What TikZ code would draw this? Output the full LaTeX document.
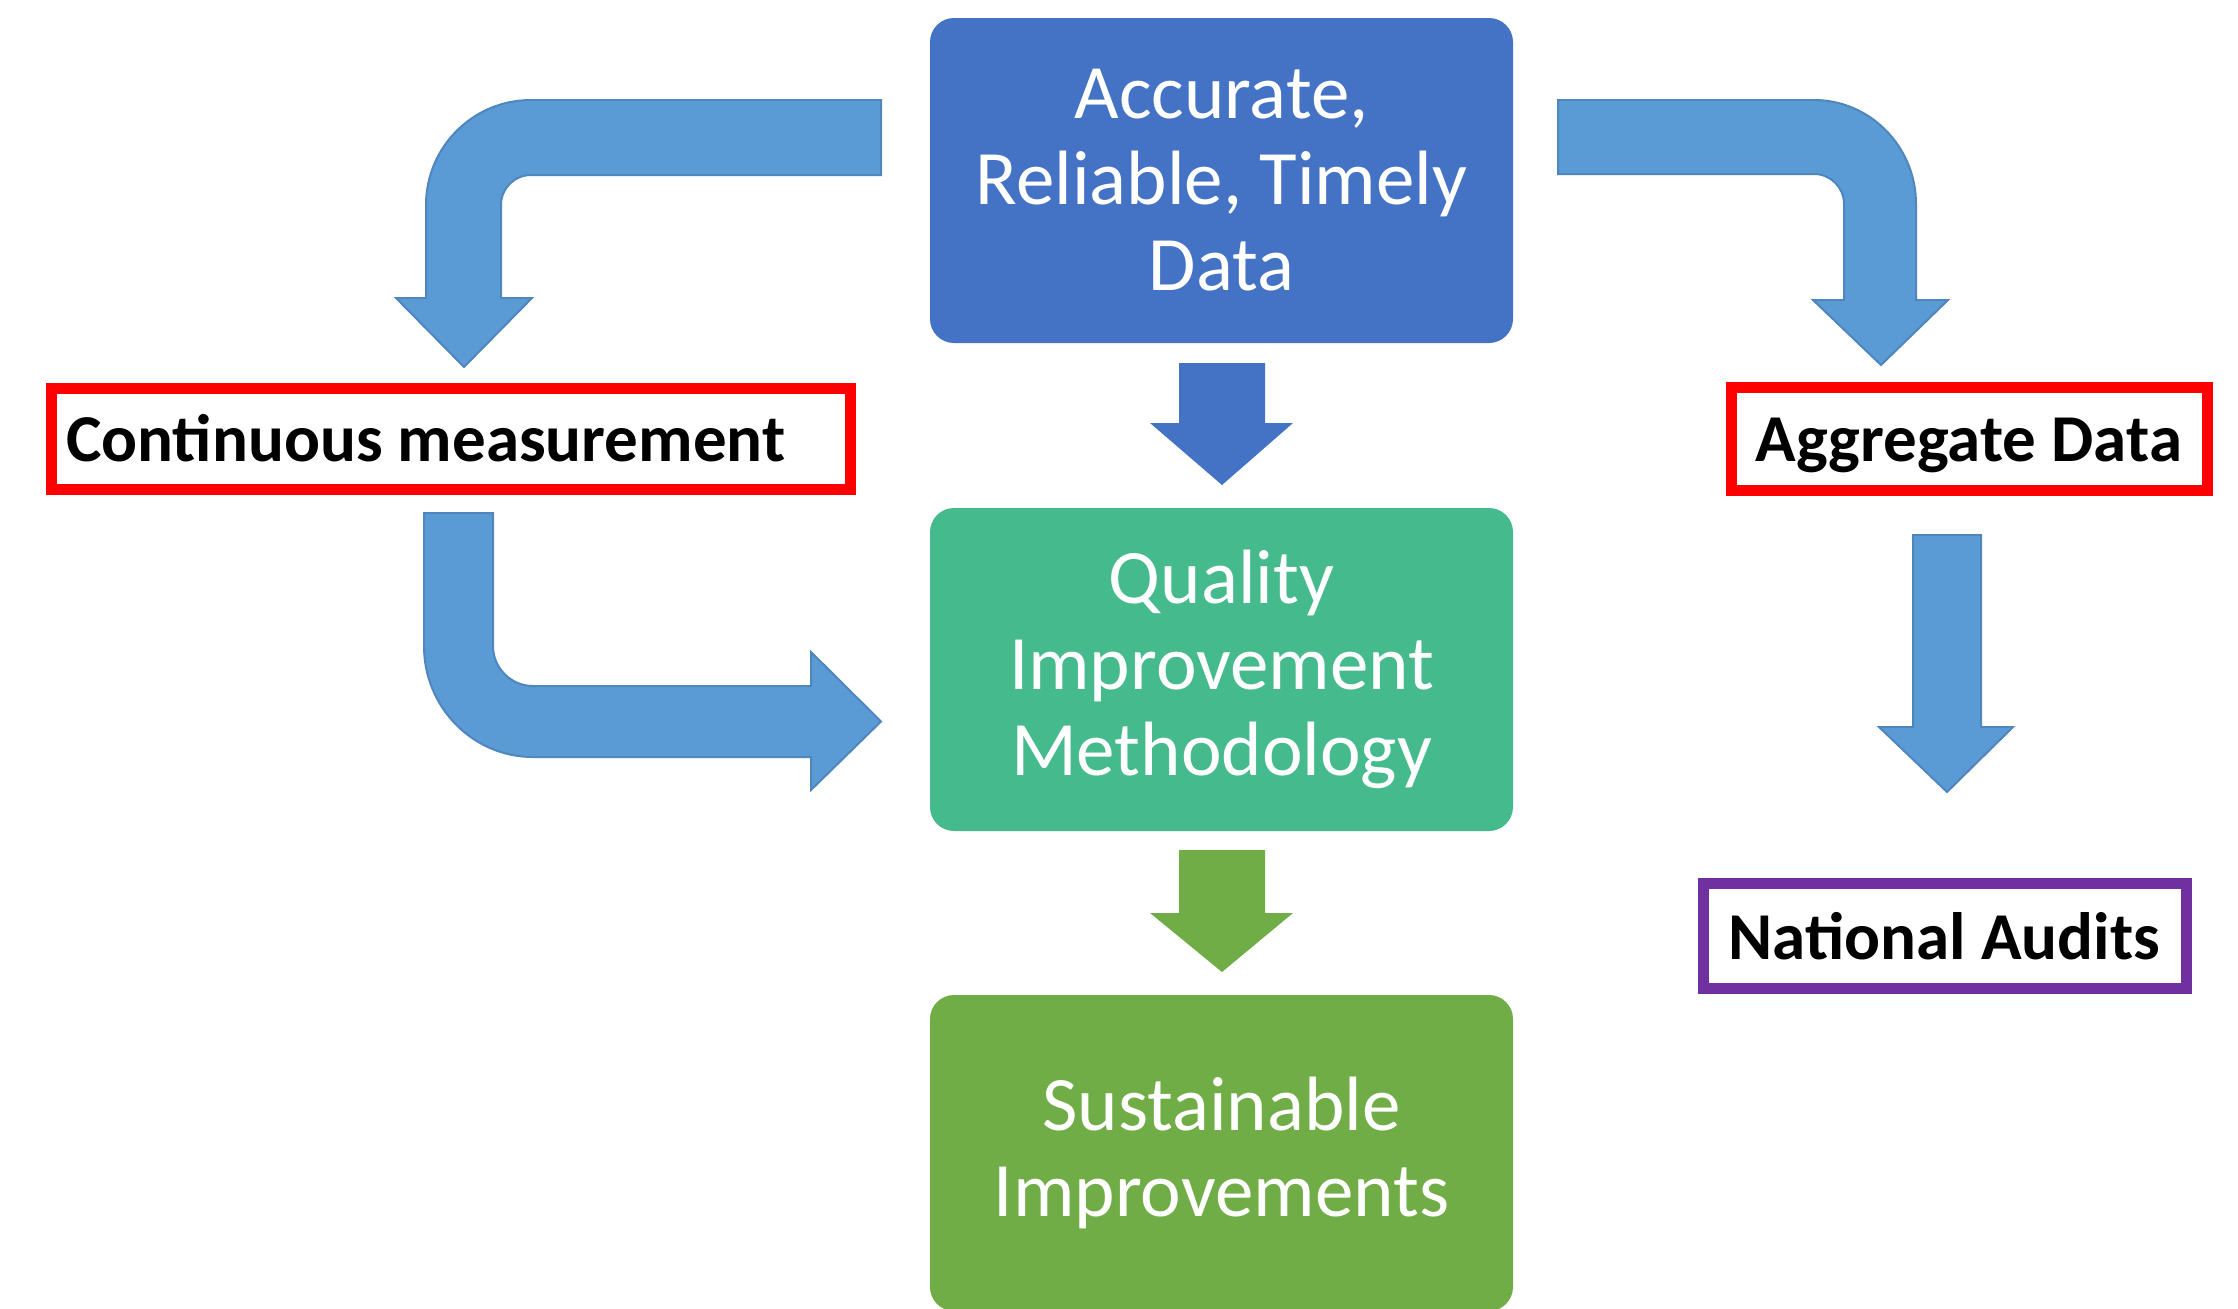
\documentclass[tikz,border=0pt]{standalone}
\usepackage{fontspec}
\setmainfont{Carlito}
\definecolor{topblue}{HTML}{4472C4}
\definecolor{lightblue}{HTML}{5B9BD5}
\definecolor{arrowedge}{HTML}{4F86BD}
\definecolor{teal}{HTML}{45BA8D}
\definecolor{leaf}{HTML}{70AD47}
\definecolor{audit}{HTML}{7030A0}
\tikzset{
  bigbox/.style={rectangle, rounded corners=24pt, draw=none, minimum width=583pt,
    text=white, align=center, font=\fontsize{77}{86}\selectfont, inner sep=0pt},
  labelbox/.style={rectangle, line width=11pt, fill=white, inner sep=0pt,
    text height=46pt, text depth=0pt,
    font=\bfseries\fontsize{67}{70}\selectfont, text=black},
  bentarrow/.style={fill=lightblue, draw=arrowedge, line width=2pt, line join=miter},
}
\begin{document}
\begin{tikzpicture}[x=1pt, y=-1pt]
\useasboundingbox (0,0) rectangle (2238,1309);
\fill[white] (0,0) rectangle (2238,1309);

% main column boxes
\node[bigbox, fill=topblue, minimum height=325pt] (data) at (1221.5,180.5)
  {Accurate,\\Reliable, Timely\\Data};
\node[bigbox, fill=teal, minimum height=323pt] (qim) at (1221.5,669.5)
  {Quality\\Improvement\\Methodology};
\node[bigbox, fill=leaf, minimum height=316pt] (sus) at (1221.5,1153)
  {Sustainable\\Improvements};

% label boxes
\node[labelbox, draw=red, minimum width=799pt, minimum height=101pt] (cm)
  at (450.5,438.5) {\makebox[769pt][l]{Continuous measurement}};
\node[labelbox, draw=red, minimum width=476pt, minimum height=103pt] (agg)
  at (1969,438.5) {Aggregate Data};
\node[labelbox, draw=audit, minimum width=483pt, minimum height=105pt] (nat)
  at (1944.5,936) {National Audits};

% straight block arrows in the middle column
\fill[topblue] (1179,363) -- (1265,363) -- (1265,423) -- (1293,423) -- (1222,485)
  -- (1150,423) -- (1179,423) -- cycle;
\fill[leaf] (1179,850) -- (1265,850) -- (1265,913) -- (1293,913) -- (1222,972)
  -- (1150,913) -- (1179,913) -- cycle;

% right straight arrow Aggregate -> National
\path[bentarrow] (1913,535) -- (1981,535) -- (1981,727) -- (2013,727) -- (1947,792)
  -- (1879,727) -- (1913,727) -- cycle;

% top-left bent arrow (data -> continuous measurement)
\path[bentarrow] (881,100) -- (531,100)
  .. controls (473,100) and (426,147) .. (426,205)
  -- (426,298) -- (396,298) -- (464,367) -- (532,298) -- (501,298) -- (501,205)
  .. controls (501,188.4) and (514.4,175) .. (531,175)
  -- (881,175) -- cycle;

% top-right bent arrow (data -> aggregate)
\path[bentarrow] (1558,100) -- (1814,100)
  .. controls (1870,100) and (1916,146.6) .. (1916,204)
  -- (1916,300) -- (1948,300) -- (1881,365) -- (1813,300) -- (1844,300) -- (1844,204)
  .. controls (1844,187.4) and (1830.6,174) .. (1814,174)
  -- (1558,174) -- cycle;

% bottom-left bent arrow (continuous measurement -> quality)
\path[bentarrow] (424,513) -- (424,646)
  .. controls (424,707.3) and (472.8,757) .. (533,757)
  -- (811,757) -- (811,790) -- (881,721.5) -- (811,652) -- (811,686) -- (533,686)
  .. controls (511,686) and (493,668) .. (493,646)
  -- (493,513) -- cycle;
\end{tikzpicture}
\end{document}
